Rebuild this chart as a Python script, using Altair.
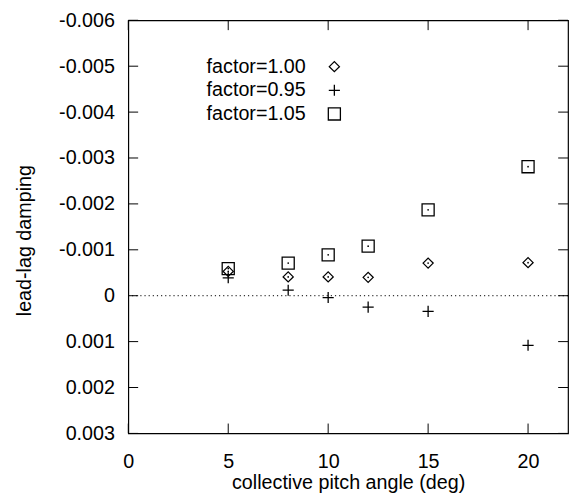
import altair as alt
import pandas as pd

# ---- data ----
angles = [5, 8, 10, 12, 15, 20]
damping_f100 = [-0.00053, -0.00041, -0.00041, -0.00040, -0.00071, -0.00072]
damping_f095 = [-0.00039, -0.00012, 0.00004, 0.00025, 0.00034, 0.00108]
damping_f105 = [-0.00059, -0.00071, -0.00089, -0.00108, -0.00187, -0.00281]
series_names = ["factor=1.00", "factor=0.95", "factor=1.05"]
x_ticks = [0, 5, 10, 15, 20]
y_ticks = [-0.006, -0.005, -0.004, -0.003, -0.002, -0.001, 0.0, 0.001, 0.002, 0.003]
zero_line = [0.0]

# ---- styles ----
series_shapes = ["diamond", "M-1,0L1,0M0,-1L0,1", "square"]
series_sizes = [105, 150, 100]
W, H = 446, 419
FONT = "Liberation Sans"
FS = 20
TICK = 10

rows = []
for name, vals in zip(series_names, [damping_f100, damping_f095, damping_f105]):
    for a, v in zip(angles, vals):
        rows.append({"angle": a, "damping": v, "series": name})
df = pd.DataFrame(rows)

xscale = alt.Scale(domain=[0, 22], nice=False, zero=False)
yscale = alt.Scale(domain=[-0.006, 0.003], reverse=True, nice=False, zero=False)
shape_scale = alt.Scale(domain=series_names, range=series_shapes)
size_scale = alt.Scale(domain=series_names, range=series_sizes)

x_axis = alt.Axis(
    values=x_ticks, ticks=False, domain=False, grid=False,
    labelFont=FONT, labelFontSize=FS, labelColor="black", labelPadding=19,
    labelFlush=False, labelOverlap=False,
    title="collective pitch angle (deg)", titleFont=FONT, titleFontSize=FS,
    titleFontWeight="normal", titleColor="black", titleY=56,
    titleBaseline="alphabetic",
)
y_axis = alt.Axis(
    values=y_ticks, ticks=False, domain=False, grid=False,
    labelFont=FONT, labelFontSize=FS, labelColor="black", labelPadding=14,
    labelFlush=False, labelOverlap=False,
    labelExpr="datum.value == 0 ? '0' : ((datum.value < 0 ? '-' : '') + format(abs(datum.value), '.3f'))",
    title="lead-lag damping", titleFont=FONT, titleFontSize=FS,
    titleFontWeight="normal", titleColor="black",
    titleX=-105, titleY=223, titleAngle=-90, titleAlign="center", titleBaseline="middle",
)

points = alt.Chart(df).mark_point(filled=False, color="black", strokeWidth=1.3, opacity=1).encode(
    x=alt.X("angle:Q", scale=xscale, axis=x_axis),
    y=alt.Y("damping:Q", scale=yscale, axis=y_axis),
    shape=alt.Shape("series:N", scale=shape_scale, legend=None),
    size=alt.Size("series:N", scale=size_scale, legend=None),
)

dots = alt.Chart(df).transform_filter(
    alt.datum.series != "factor=0.95"
).mark_point(filled=True, color="black", shape="circle", size=3, opacity=1).encode(
    x=alt.X("angle:Q", scale=xscale, axis=x_axis),
    y=alt.Y("damping:Q", scale=yscale, axis=y_axis),
)

zero_df = pd.DataFrame({"y": zero_line})
zero_rule = alt.Chart(zero_df).mark_rule(color="black", strokeDash=[1.2, 3], strokeWidth=1).encode(
    y=alt.Y("y:Q", scale=yscale, axis=y_axis)
)

ytick_df = pd.DataFrame({"v": y_ticks})
xtick_df = pd.DataFrame({"v": x_ticks})
tick_left = alt.Chart(ytick_df).mark_rule(color="black", strokeWidth=1).encode(
    y=alt.Y("v:Q", scale=yscale, axis=y_axis), x=alt.value(0), x2=alt.value(TICK))
tick_right = alt.Chart(ytick_df).mark_rule(color="black", strokeWidth=1).encode(
    y=alt.Y("v:Q", scale=yscale, axis=y_axis), x=alt.value(W - TICK), x2=alt.value(W))
tick_bottom = alt.Chart(xtick_df).mark_rule(color="black", strokeWidth=1).encode(
    x=alt.X("v:Q", scale=xscale, axis=x_axis), y=alt.value(H - TICK), y2=alt.value(H))
tick_top = alt.Chart(xtick_df).mark_rule(color="black", strokeWidth=1).encode(
    x=alt.X("v:Q", scale=xscale, axis=x_axis), y=alt.value(0), y2=alt.value(TICK))

legend_df = pd.DataFrame({"series": series_names, "row": list(range(len(series_names)))})
legend_text = alt.Chart(legend_df).transform_calculate(
    py="47 + datum.row * 24"
).mark_text(align="right", baseline="middle", font=FONT, fontSize=FS, color="black").encode(
    x=alt.value(180), y=alt.Y("py:Q", scale=None, axis=None), text="series:N")
legend_sym = alt.Chart(legend_df).transform_calculate(
    py="47 + datum.row * 24"
).mark_point(filled=False, color="black", strokeWidth=1.3, opacity=1).encode(
    x=alt.value(209), y=alt.Y("py:Q", scale=None, axis=None),
    shape=alt.Shape("series:N", scale=shape_scale, legend=None),
    size=alt.Size("series:N", scale=size_scale, legend=None),
)

chart = alt.layer(
    zero_rule, tick_left, tick_right, tick_bottom, tick_top,
    points, dots, legend_text, legend_sym,
).properties(
    width=W, height=H,
    autosize=alt.AutoSizeParams(type="none"),
    padding={"left": 122, "top": 9, "right": 2, "bottom": 59},
    background="white",
).configure(font=FONT).configure_view(stroke="black", strokeWidth=1.2)

chart.save("out.html", embed_options={"renderer": "svg", "actions": False})
